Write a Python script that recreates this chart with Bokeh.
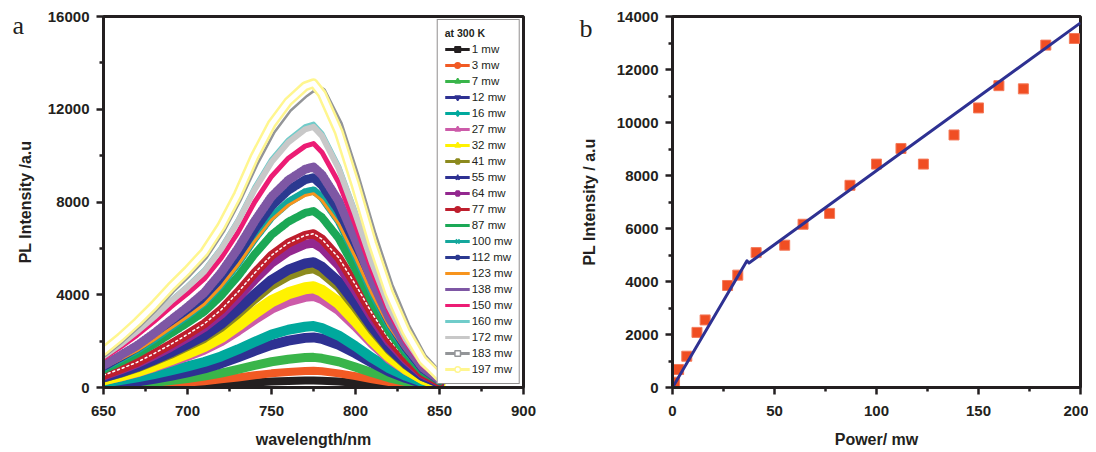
import math
from bokeh.plotting import figure
from bokeh.layouts import row
from bokeh.models import FixedTicker, Legend, LegendItem, Label
from bokeh.embed import file_html
from bokeh.resources import INLINE

# ---------------- Panel a data (PL spectra at 300 K) ----------------
wavelength = [650, 660, 670, 680, 690, 700, 710, 720, 730, 740, 750, 760, 770, 775,
              780, 790, 800, 810, 820, 830, 840, 850]

pl_1mw = [20, 20, 40, 50, 70, 90, 110, 140, 180, 220, 260, 280, 300, 300, 290, 260, 200, 150, 100, 60, 30, 10]
pl_3mw = [40, 60, 90, 120, 170, 220, 270, 350, 430, 530, 610, 670, 710, 720, 700, 610, 490, 350, 230, 140, 60, 30]
pl_7mw = [70, 100, 160, 220, 300, 390, 490, 620, 780, 950, 1110, 1220, 1290, 1300, 1260, 1110, 880, 640, 420, 250, 120, 50]
pl_12mw = [110, 170, 260, 370, 500, 650, 820, 1040, 1300, 1580, 1840, 2020, 2140, 2160, 2100, 1840, 1470, 1060, 690, 410, 190, 80]
pl_16mw = [210, 320, 440, 580, 740, 910, 1100, 1340, 1640, 1970, 2280, 2490, 2620, 2650, 2560, 2240, 1780, 1270, 830, 500, 240, 90]
pl_27mw = [320, 470, 650, 870, 1110, 1360, 1640, 1990, 2450, 2940, 3400, 3710, 3910, 3950, 3810, 3340, 2650, 1900, 1240, 750, 360, 140]
pl_32mw = [350, 520, 710, 950, 1210, 1490, 1790, 2180, 2680, 3220, 3720, 4060, 4280, 4320, 4170, 3650, 2890, 2070, 1360, 820, 390, 150]
pl_41mw = [410, 610, 840, 1130, 1430, 1770, 2120, 2590, 3170, 3810, 4400, 4810, 5070, 5120, 4940, 4330, 3430, 2460, 1610, 970, 460, 180]
pl_55mw = [430, 650, 890, 1190, 1510, 1860, 2240, 2730, 3350, 4020, 4640, 5080, 5350, 5400, 5210, 4560, 3620, 2590, 1700, 1030, 490, 190]
pl_64mw = [500, 750, 1030, 1370, 1740, 2150, 2590, 3150, 3860, 4640, 5360, 5860, 6170, 6230, 6010, 5260, 4170, 2990, 1960, 1180, 560, 220]
pl_77mw = [530, 800, 1090, 1460, 1860, 2290, 2750, 3350, 4110, 4940, 5700, 6230, 6560, 6630, 6400, 5600, 4440, 3180, 2090, 1260, 600, 230]
pl_87mw = [760, 1100, 1450, 1860, 2320, 2780, 3270, 3960, 4790, 5750, 6580, 7150, 7530, 7610, 7340, 6430, 5100, 3650, 2400, 1450, 680, 270]
pl_100mw = [850, 1230, 1620, 2080, 2590, 3100, 3660, 4420, 5360, 6420, 7350, 7990, 8420, 8500, 8200, 7180, 5700, 4080, 2680, 1620, 770, 300]
pl_112mw = [910, 1310, 1720, 2220, 2760, 3300, 3890, 4710, 5700, 6830, 7830, 8510, 8960, 9050, 8730, 7650, 6060, 4340, 2850, 1720, 810, 320]
pl_123mw = [840, 1210, 1590, 2050, 2550, 3050, 3590, 4350, 5270, 6310, 7230, 7860, 8280, 8360, 8070, 7060, 5600, 4010, 2630, 1590, 750, 290]
pl_138mw = [950, 1380, 1810, 2330, 2900, 3470, 4090, 4950, 5990, 7180, 8230, 8940, 9410, 9510, 9180, 8040, 6370, 4560, 3000, 1810, 860, 330]
pl_150mw = [1260, 1740, 2260, 2840, 3470, 4050, 4680, 5580, 6680, 8000, 9100, 9890, 10410, 10520, 10150, 8840, 7000, 5000, 3260, 1950, 950, 370]
pl_160mw = [1360, 1870, 2440, 3070, 3750, 4370, 5060, 6020, 7210, 8630, 9830, 10680, 11250, 11360, 10960, 9540, 7550, 5400, 3520, 2100, 1020, 400]
pl_172mw = [1350, 1850, 2420, 3030, 3710, 4330, 5000, 5960, 7140, 8540, 9720, 10570, 11130, 11240, 10850, 9440, 7470, 5340, 3480, 2080, 1010, 390]
pl_183mw = [1490, 2070, 2720, 3430, 4210, 4920, 5700, 6800, 8160, 9710, 11070, 12040, 12690, 12950, 12760, 11330, 9070, 6600, 4400, 2650, 1300, 520]
pl_197mw = [1570, 2160, 2820, 3540, 4330, 5050, 5840, 6950, 8330, 9970, 11350, 12330, 12990, 13120, 12660, 11020, 8720, 6230, 4070, 2430, 1180, 460]

series_labels = ["1 mw", "3 mw", "7 mw", "12 mw", "16 mw", "27 mw", "32 mw", "41 mw", "55 mw",
                 "64 mw", "77 mw", "87 mw", "100 mw", "112 mw", "123 mw", "138 mw", "150 mw",
                 "160 mw", "172 mw", "183 mw", "197 mw"]

a_xticks = [650, 700, 750, 800, 850, 900]
a_xminor = [675, 725, 775, 825, 875]
a_yticks = [0, 4000, 8000, 12000, 16000]
a_yminor = [2000, 6000, 10000, 14000]

# ---------------- Panel b data (integrated PL vs power) ----------------
power_mw = [1, 3, 7, 12, 16, 27, 32, 41, 55, 64, 77, 87, 100, 112, 123, 138, 150, 160, 172, 183, 197]
pl_intensity = [200, 680, 1180, 2080, 2550, 3850, 4240, 5090, 5370, 6160, 6570, 7630, 8430, 9020,
                8430, 9530, 10550, 11390, 11270, 12920, 13170]
fit_power = [0, 36.5, 37.5, 200]
fit_pl = [0, 4780, 4700, 13760]

b_xticks = [0, 50, 100, 150, 200]
b_xminor = [25, 75, 125, 175]
b_yticks = [0, 2000, 4000, 6000, 8000, 10000, 12000, 14000]
b_yminor = [1000, 3000, 5000, 7000, 9000, 11000, 13000]

# ---------------- styles ----------------
INK = "#231F20"
FONT = "Liberation Sans"

spectra = [pl_1mw, pl_3mw, pl_7mw, pl_12mw, pl_16mw, pl_27mw, pl_32mw, pl_41mw, pl_55mw,
           pl_64mw, pl_77mw, pl_87mw, pl_100mw, pl_112mw, pl_123mw, pl_138mw, pl_150mw,
           pl_160mw, pl_172mw, pl_183mw, pl_197mw]

colors = ["#231F20", "#F15A24", "#39B54A", "#2E3192", "#00A99D", "#CC5BA9", "#FFF200",
          "#8C8A1E", "#2E3192", "#93278F", "#BE1E2D", "#1BA856", "#14A79C", "#2B3990",
          "#F7941D", "#7E57A4", "#EC1C74", "#70CCCA", "#C8C8C8", "#939598", "#FFF68F"]
widths = [8, 8, 9, 10, 10, 10, 12, 9, 10, 9, 9, 8, 8, 9, 3, 9, 5, 5, 6, 9, 10]
dashes = ["solid"] * 21
dashes[11] = "3 1"
dashes[12] = "2 1"
dashes[13] = "3 1"
dashes[15] = "1 2"
overlay = {10: (1.5, "2 3"), 19: (4, "solid"), 20: (5, "solid")}

# marker, size, angle, filled
markers = [("square", 7, 0, True), ("circle", 7, 0, True), ("triangle", 8, 0, True),
           ("inverted_triangle", 8, 0, True), ("diamond", 10, 0, True),
           ("triangle", 8, math.pi / 2, True), ("triangle", 8, -math.pi / 2, True),
           ("hex", 8, 0, True), ("star", 9, 0, True), ("hex", 8, 0, True),
           ("circle", 8, 0, True), ("dash", 9, math.pi / 2, True), ("x", 8, 0, True),
           ("asterisk", 9, 0, True), (None, 0, 0, True), ("dash", 9, math.pi / 2, True),
           (None, 0, 0, True), (None, 0, 0, True), (None, 0, 0, True),
           ("square", 8, 0, False), ("circle", 9, 0, False)]


def style_axes(p, ylabel_standoff):
    for ax in (p.xaxis[0], p.yaxis[0]):
        ax.axis_line_width = 3
        ax.axis_line_color = INK
        ax.major_tick_line_width = 2.5
        ax.major_tick_line_color = INK
        ax.minor_tick_line_width = 2.5
        ax.minor_tick_line_color = INK
        ax.major_tick_in = 0
        ax.major_tick_out = 7
        ax.minor_tick_in = 0
        ax.minor_tick_out = 4
        ax.major_label_text_font = FONT
        ax.major_label_text_font_style = "bold"
        ax.major_label_text_font_size = "15px"
        ax.major_label_text_color = INK
        ax.axis_label_text_font = FONT
        ax.axis_label_text_font_style = "bold"
        ax.axis_label_text_font_size = "16px"
        ax.axis_label_text_color = INK
    p.xaxis[0].major_label_standoff = 11
    p.xaxis[0].axis_label_standoff = 12
    p.yaxis[0].major_label_standoff = 7
    p.yaxis[0].axis_label_standoff = ylabel_standoff
    p.xgrid.grid_line_color = None
    p.ygrid.grid_line_color = None
    p.outline_line_color = INK
    p.outline_line_width = 3
    p.outline_line_alpha = 1.0


# ---------------- Panel a ----------------
p1 = figure(width=560, height=450, x_range=(650, 900), y_range=(0, 16000),
            output_backend="svg", toolbar_location=None,
            min_border_left=103, min_border_right=37, min_border_top=16, min_border_bottom=63)
p1.xaxis.ticker = FixedTicker(ticks=a_xticks, minor_ticks=a_xminor)
p1.yaxis.ticker = FixedTicker(ticks=a_yticks, minor_ticks=a_yminor)
p1.xaxis.axis_label = "wavelength/nm"
p1.yaxis.axis_label = "PL Intensity /a.u"
style_axes(p1, 11)

for i, vals in enumerate(spectra):
    p1.line(wavelength, vals, line_color=colors[i], line_width=widths[i],
            line_dash=dashes[i], line_join="round", line_cap="round")
    if i in overlay:
        w, d = overlay[i]
        p1.line(wavelength, vals, line_color="white", line_width=w, line_dash=d,
                line_join="round", line_cap="round")

nan = float("nan")
items = []
for i, lab in enumerate(series_labels):
    rends = [p1.line([nan], [nan], line_color=colors[i], line_width=3)]
    mk, sz, ang, filled = markers[i]
    if mk is not None:
        rends.append(p1.scatter([nan], [nan], marker=mk, size=sz, angle=ang,
                                line_color=colors[i],
                                fill_color=colors[i] if filled else "white",
                                line_width=2 if mk in ("x", "asterisk", "dash") else 1.5))
    items.append(LegendItem(label=lab, renderers=rends))

legend = Legend(items=items, location="top_right", margin=3,
                title="at 300 K", title_text_font=FONT, title_text_font_style="bold",
                title_text_font_size="10.5px", title_text_color=INK, title_standoff=3,
                label_text_font=FONT, label_text_font_size="11.5px", label_text_color=INK,
                label_standoff=2, label_height=14, glyph_height=14, glyph_width=25,
                spacing=2, padding=7,
                border_line_color=INK, border_line_width=1,
                background_fill_color="white", background_fill_alpha=1.0)
p1.add_layout(legend)

p1.add_layout(Label(x=11, y=362, x_units="screen", y_units="screen", text="a",
                    text_font="Liberation Serif", text_font_size="26px",
                    text_color=INK, text_baseline="alphabetic"), "left")

# ---------------- Panel b ----------------
p2 = figure(width=528, height=450, x_range=(0, 200), y_range=(0, 14000),
            output_backend="svg", toolbar_location=None,
            min_border_left=112, min_border_right=8, min_border_top=15, min_border_bottom=63)
p2.xaxis.ticker = FixedTicker(ticks=b_xticks, minor_ticks=b_xminor)
p2.yaxis.ticker = FixedTicker(ticks=b_yticks, minor_ticks=b_yminor)
p2.xaxis.axis_label = "Power/ mw"
p2.yaxis.axis_label = "PL Intensity / a.u"
style_axes(p2, 16)

p2.scatter(power_mw, pl_intensity, marker="square", size=10,
           fill_color="#F04E23", line_color="#F47A5A", line_width=1)
p2.line(fit_power, fit_pl, line_color="#2E3192", line_width=3, line_join="round")

p2.add_layout(Label(x=15, y=359, x_units="screen", y_units="screen", text="b",
                    text_font="Liberation Serif", text_font_size="26px",
                    text_color=INK, text_baseline="alphabetic"), "left")

layout = row(p1, p2)
open("out.html", "w").write(file_html(layout, INLINE))
